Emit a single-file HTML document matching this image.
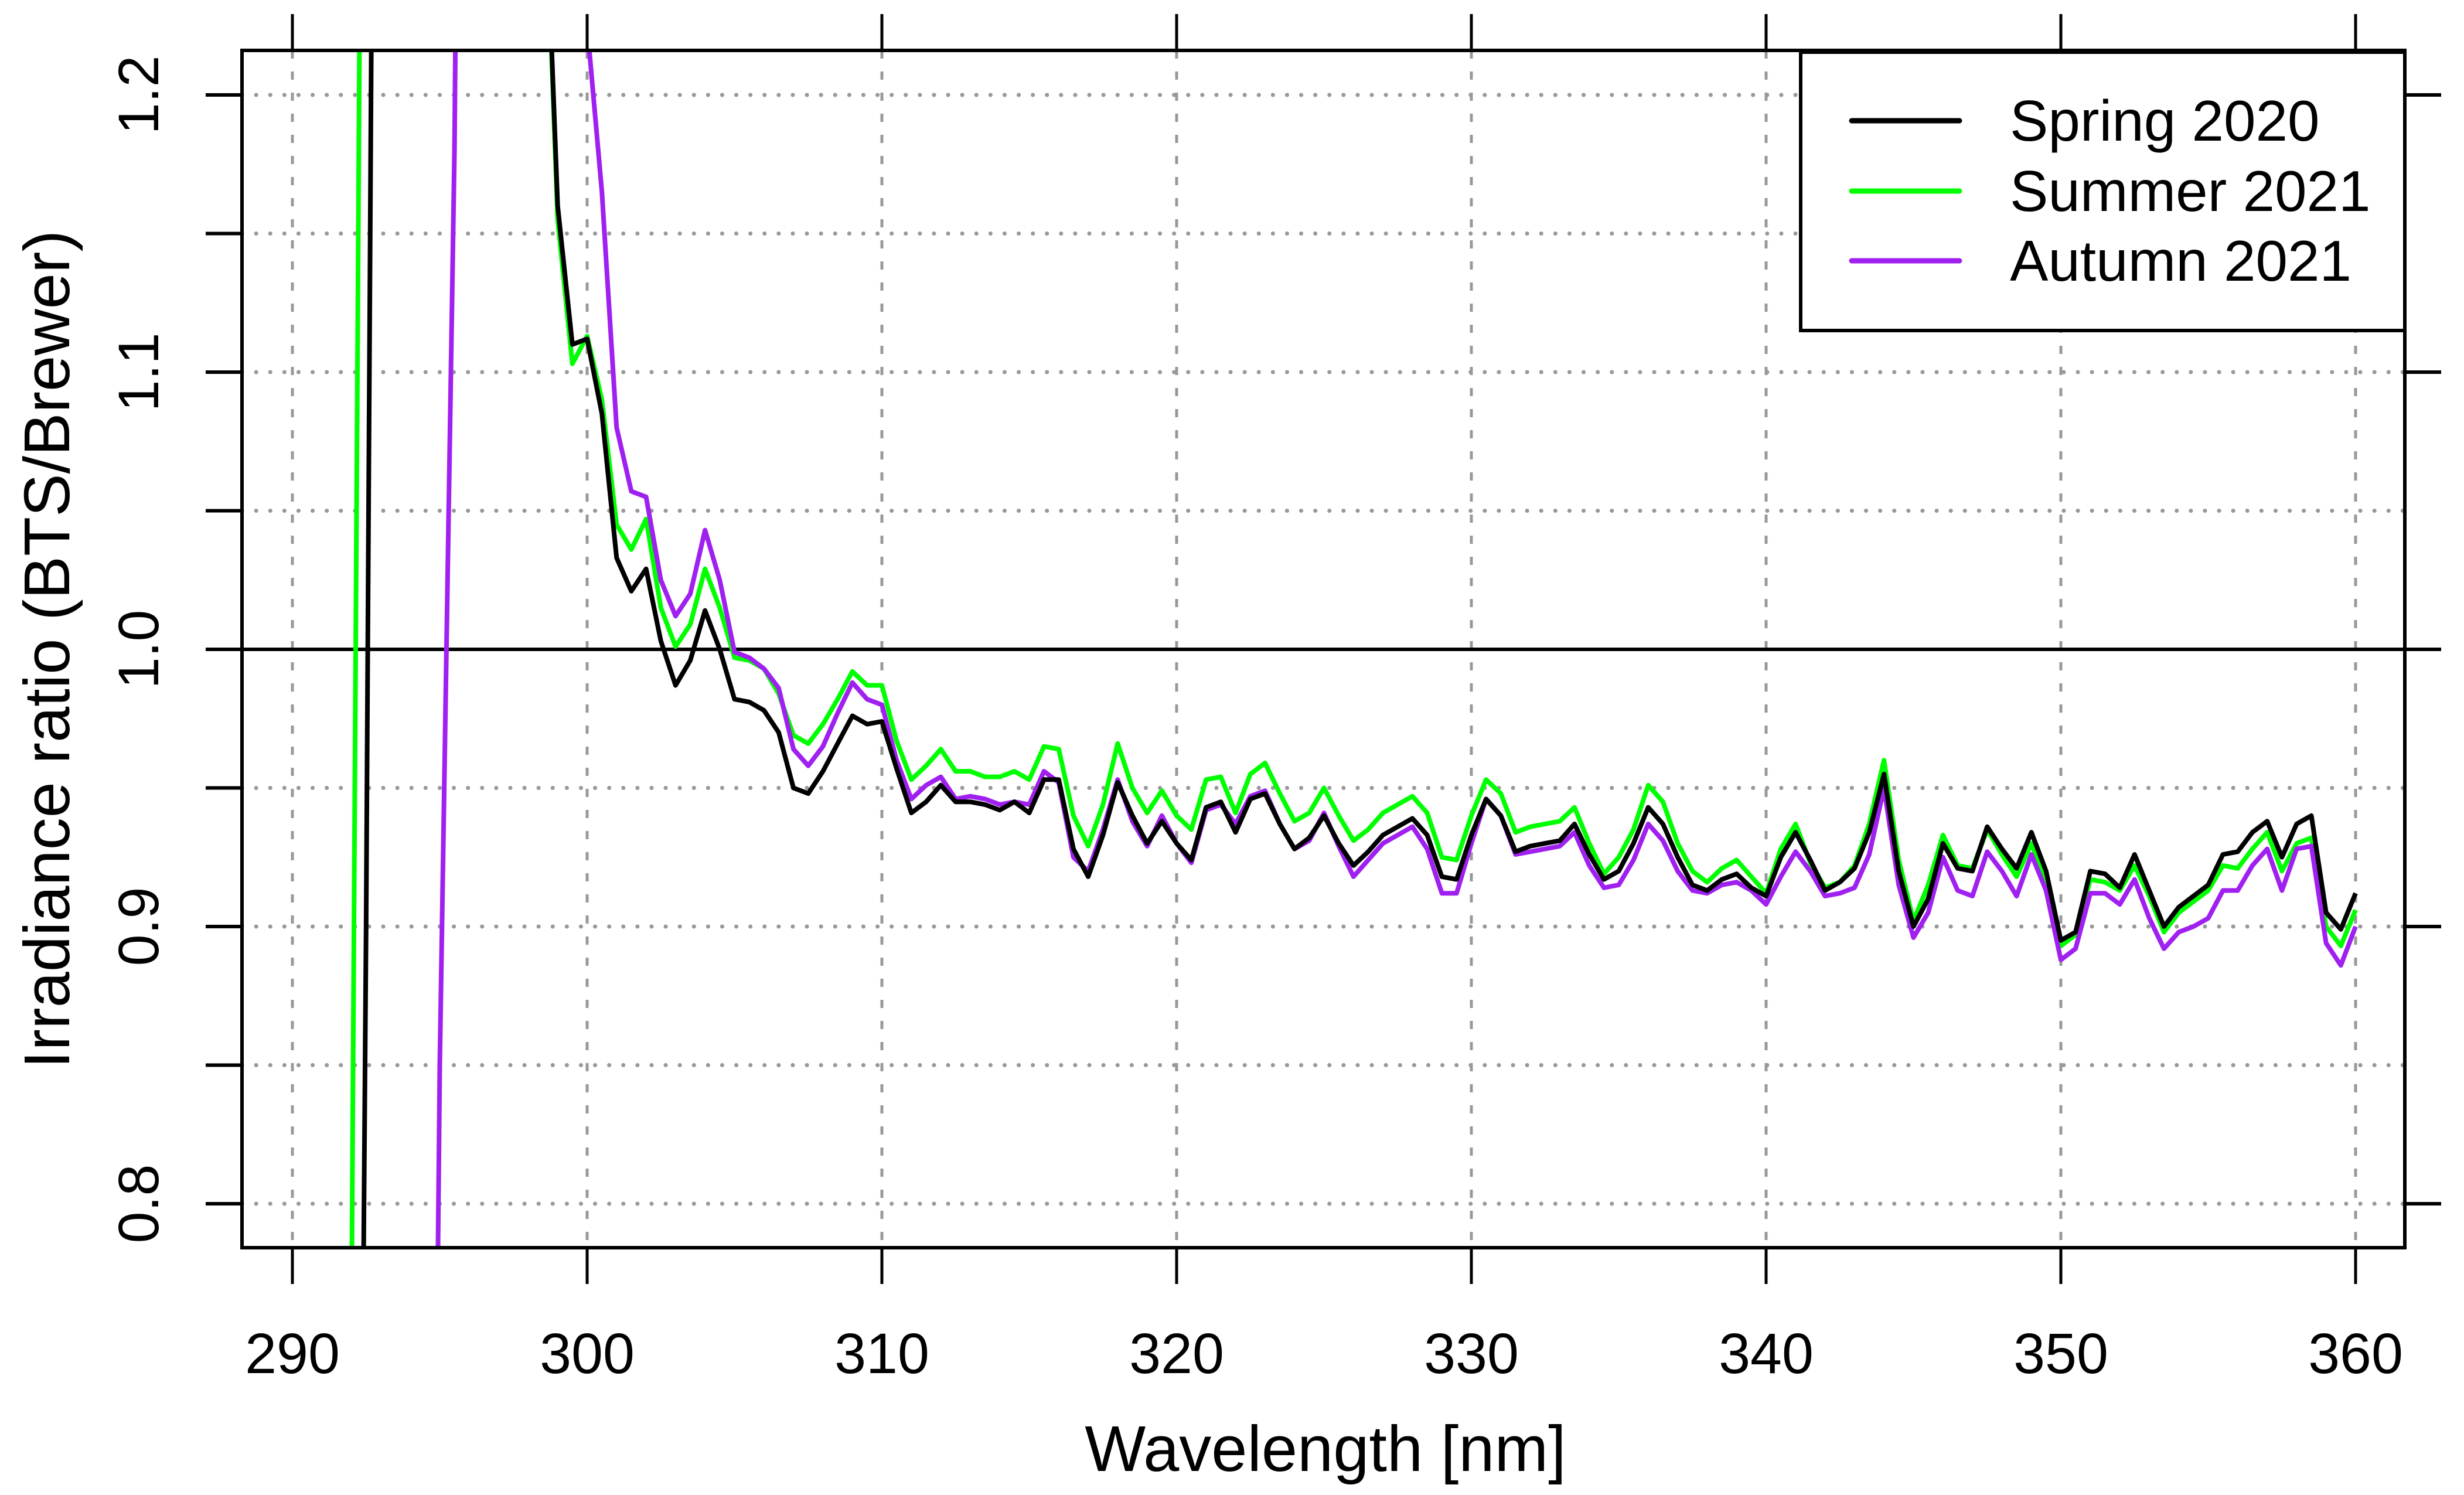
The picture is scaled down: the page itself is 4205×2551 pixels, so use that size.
<!DOCTYPE html>
<html><head><meta charset="utf-8"><style>
html,body{margin:0;padding:0;background:#fff;overflow:hidden;width:4205px;height:2551px}
svg{display:block;font-family:"Liberation Sans",Arial,sans-serif}
</style></head><body>
<svg id="chart" xmlns="http://www.w3.org/2000/svg" width="4205" height="2551" viewBox="0 0 4205 2551">
<defs><clipPath id="plotclip"><rect x="413" y="86" width="3691" height="2043"/></clipPath></defs>
<rect x="0" y="0" width="4205" height="2551" fill="#fff"/>
<g id="grid"></g>
<g id="series" clip-path="url(#plotclip)"></g>
<g id="axes"></g>
<text x="2262" y="2510" font-size="110" text-anchor="middle">Wavelength [nm]</text>
<text transform="translate(118,1108) rotate(-90)" font-size="110" text-anchor="middle">Irradiance ratio (BTS/Brewer)</text>
<g>
<rect x="3073" y="89" width="1031" height="475" fill="#fff" stroke="#000" stroke-width="6"/>
<line x1="3160" y1="206" x2="3344" y2="206" stroke="#000" stroke-width="9" stroke-linecap="round"/>
<line x1="3160" y1="326" x2="3344" y2="326" stroke="#00ff00" stroke-width="9" stroke-linecap="round"/>
<line x1="3160" y1="445" x2="3344" y2="445" stroke="#a020f0" stroke-width="9" stroke-linecap="round"/>
<text x="3430" y="240" font-size="98">Spring 2020</text>
<text x="3430" y="360" font-size="98">Summer 2021</text>
<text x="3430" y="479" font-size="98">Autumn 2021</text>
</g>
</svg>
<script>
const xTicks = [290,300,310,320,330,340,350,360];
const yTicks = [0.8,0.9,1.0,1.1,1.2];
const yTickLabels = ["0.8","0.9","1.0","1.1","1.2"];
const yMinor = [0.8,0.85,0.9,0.95,1.0,1.05,1.1,1.15,1.2];
const wlStart = 291.5, wlStep = 0.5;
const spring = [null,0.2,0.9,1.8,1.8,1.8,1.8,1.8,1.8,1.8,1.8,1.8,1.8,1.8,1.3,1.16,1.11,
1.112,1.085,1.033,1.021,1.029,1.003,0.987,0.996,1.014,1.0,
0.982,0.981,0.978,0.97,0.95,0.948,0.956,0.966,0.976,0.973,
0.974,0.957,0.941,0.945,0.951,0.945,0.945,0.944,0.942,0.945,
0.941,0.953,0.953,0.928,0.918,0.933,0.952,0.94,0.93,0.938,
0.93,0.924,0.943,0.945,0.934,0.946,0.948,0.937,0.928,0.932,
0.94,0.93,0.922,0.927,0.933,0.936,0.939,0.933,0.918,0.917,
0.933,0.946,0.94,0.927,0.929,0.93,0.931,0.937,0.926,0.917,
0.92,0.93,0.943,0.937,0.925,0.915,0.913,0.917,0.919,0.914,
0.911,0.925,0.934,0.924,0.913,0.916,0.921,0.934,0.955,0.92,
0.9,0.91,0.93,0.921,0.92,0.936,0.928,0.921,0.934,0.92,
0.895,0.898,0.92,0.919,0.914,0.926,0.913,0.9,0.907,0.911,
0.915,0.926,0.927,0.934,0.938,0.925,0.937,0.94,0.905,0.899,
0.912];
const summer = [0.2,0.75,1.6,1.8,1.8,1.8,1.8,1.8,1.8,1.8,1.8,1.8,1.8,1.8,1.3,1.155,1.103,
1.113,1.09,1.045,1.036,1.047,1.015,1.001,1.009,1.029,1.015,
0.997,0.996,0.993,0.984,0.969,0.966,0.973,0.982,0.992,0.987,
0.987,0.967,0.953,0.958,0.964,0.956,0.956,0.954,0.954,0.956,
0.953,0.965,0.964,0.94,0.929,0.944,0.966,0.95,0.941,0.949,
0.94,0.935,0.953,0.954,0.941,0.955,0.959,0.948,0.938,0.941,
0.95,0.94,0.931,0.935,0.941,0.944,0.947,0.941,0.925,0.924,
0.94,0.953,0.948,0.934,0.936,0.937,0.938,0.943,0.93,0.919,
0.925,0.935,0.951,0.945,0.93,0.92,0.916,0.921,0.924,0.918,
0.912,0.928,0.937,0.923,0.914,0.916,0.922,0.937,0.96,0.924,
0.902,0.915,0.933,0.922,0.921,0.935,0.926,0.918,0.93,0.916,
0.893,0.897,0.917,0.916,0.913,0.922,0.911,0.898,0.905,0.909,
0.913,0.922,0.921,0.928,0.934,0.92,0.93,0.932,0.9,0.893,
0.906];
const autumn = [null,null,null,null,null,null,0.3,0.85,1.18,1.8,1.8,1.8,1.8,1.8,1.8,1.8,1.6,
1.225,1.165,1.08,1.057,1.055,1.025,1.012,1.02,1.043,1.025,
0.999,0.997,0.993,0.986,0.964,0.958,0.965,0.977,0.988,0.982,
0.98,0.96,0.946,0.951,0.954,0.946,0.947,0.946,0.944,0.945,
0.944,0.956,0.952,0.925,0.92,0.935,0.953,0.938,0.929,0.94,
0.93,0.923,0.942,0.944,0.937,0.947,0.949,0.937,0.928,0.931,
0.941,0.929,0.918,0.924,0.93,0.933,0.936,0.928,0.912,0.912,
0.93,0.946,0.94,0.926,0.927,0.928,0.929,0.934,0.922,0.914,
0.915,0.924,0.937,0.931,0.92,0.913,0.912,0.915,0.916,0.913,
0.908,0.918,0.927,0.92,0.911,0.912,0.914,0.926,0.95,0.915,
0.896,0.905,0.925,0.913,0.911,0.927,0.92,0.911,0.926,0.913,
0.888,0.892,0.912,0.912,0.908,0.917,0.903,0.892,0.898,0.9,
0.903,0.913,0.913,0.922,0.928,0.913,0.928,0.929,0.894,0.886,
0.9];

const NS="http://www.w3.org/2000/svg";
const L=413,R=4104,T=86,B=2129;
function xs(w){return 499+(w-290)*50.3;}
function ys(v){return 1108-(v-1)*4730;}
function mk(tag,attrs,parent){const e=document.createElementNS(NS,tag);for(const k in attrs)e.setAttribute(k,attrs[k]);parent.appendChild(e);return e;}
const grid=document.getElementById('grid'),axes=document.getElementById('axes'),series=document.getElementById('series');
xTicks.forEach(t=>{
  const g=mk('line',{x1:xs(t),x2:xs(t),y1:T,y2:B,stroke:'#999','stroke-width':5,'stroke-dasharray':'14 22'},grid);
  
  
  const tb=mk('line',{x1:xs(t),x2:xs(t),y1:B,y2:B+62,stroke:'#000','stroke-width':5},axes);
  
  
  const tt=mk('line',{x1:xs(t),x2:xs(t),y1:T,y2:T-62,stroke:'#000','stroke-width':5},axes);
  
  
  const lb=mk('text',{x:xs(t),y:2343,'font-size':97,'text-anchor':'middle'},axes);
  lb.textContent=String(t);
  
  
});
yMinor.forEach(v=>{
  if(Math.abs(v-1)<1e-9){
    const g=mk('line',{x1:L,x2:R,y1:ys(v),y2:ys(v),stroke:'#000','stroke-width':6},grid);
    
    
  } else {
    const g=mk('line',{x1:L,x2:R,y1:ys(v),y2:ys(v),stroke:'#999','stroke-width':7,'stroke-dasharray':'0.1 24','stroke-linecap':'round'},grid);
    
    
  }
  const tk=mk('line',{x1:L-62,x2:L,y1:ys(v),y2:ys(v),stroke:'#000','stroke-width':6},axes);
  
  
});
yTicks.forEach((v,i)=>{
  const tr=mk('line',{x1:R,x2:R+62,y1:ys(v),y2:ys(v),stroke:'#000','stroke-width':6},axes);
  
  
  const lb=mk('text',{transform:'translate(270,'+ys(v)+') rotate(-90)','font-size':97,'text-anchor':'middle'},axes);
  lb.textContent=yTickLabels[i];
  
  
});
const fr=mk('rect',{x:L,y:T,width:R-L,height:B-T,fill:'none',stroke:'#000','stroke-width':6},axes);


function drawSeries(arr,color,name){
  let d='',pen=false;
  arr.forEach((v,i)=>{
    if(v===null){pen=false;return;}
    const w=wlStart+i*wlStep;
    d+=(pen?'L':'M')+xs(w).toFixed(1)+' '+ys(v).toFixed(1);
    pen=true;
  });
  const p=mk('path',{d:d,fill:'none',stroke:color,'stroke-width':8,'stroke-linejoin':'round'},series);
  
  
}
drawSeries(summer,'#00ff00','line-summer-2021');
drawSeries(autumn,'#a020f0','line-autumn-2021');
drawSeries(spring,'#000000','line-spring-2020');
</script>
</body></html>
